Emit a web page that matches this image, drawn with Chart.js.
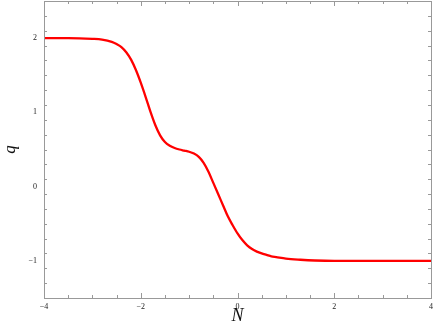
<!DOCTYPE html>
<html>
<head>
<meta charset="utf-8">
<script src="https://cdn.jsdelivr.net/npm/chart.js@4/dist/chart.umd.min.js"></script>
<style>
  html, body { margin: 0; padding: 0; background: #fff; }
  #wrap { width: 436px; height: 327px; }
</style>
</head>
<body>
<div id="wrap"><canvas id="canvas"></canvas></div>
<script>
// q(N)
var nVals = [-4, -3.5, -3, -2.8, -2.6, -2.5, -2.4, -2.3, -2.2, -2.1, -2.0, -1.9, -1.8, -1.7, -1.6, -1.5, -1.4, -1.3, -1.2, -1.1, -1.0,
             -0.9, -0.8, -0.7, -0.6, -0.5, -0.4, -0.3, -0.2, -0.1, 0, 0.1, 0.2, 0.3, 0.4, 0.5, 0.6, 0.7, 0.8, 1.0, 1.3, 1.6, 2, 3, 4];
var qVals = [2.0, 2.0, 1.99, 1.98, 1.95, 1.92, 1.88, 1.81, 1.71, 1.57, 1.40, 1.21, 1.01, 0.83, 0.69, 0.60, 0.55, 0.52, 0.50, 0.485, 0.47,
             0.445, 0.40, 0.32, 0.20, 0.05, -0.10, -0.25, -0.40, -0.52, -0.63, -0.72, -0.79, -0.84, -0.875, -0.90, -0.92, -0.94, -0.95, -0.97, -0.985, -0.995, -1.0, -1.0, -1.0];

var xTicks = [-4, -2, 0, 2, 4];
var yTicks = [-1, 0, 1, 2];

var points = nVals.map(function(n, i){
    return {x: n, y: qVals[i]};
});

function fmt(v){
    return v < 0 ? '\u2212' + Math.abs(v) : String(v);
}

// mathematica style frame with inward ticks
var frameTicks = {
    id: 'frameTicks',
    afterDraw: function(chart){
        var c = chart.ctx;
        var a = chart.chartArea;
        var xs = chart.scales.x, ys = chart.scales.y;
        c.save();
        c.strokeStyle = '#999';
        c.lineWidth = 1;
        c.strokeRect(a.left + 0.5, a.top + 0.5, a.right - a.left, a.bottom - a.top);
        c.beginPath();
        for (var i = 0; i <= 16; i++) {
            var v = -4 + i * 0.5;
            var px = Math.round(xs.getPixelForValue(v)) + 0.5;
            var len = (v % 2 === 0) ? 5 : 3;
            c.moveTo(px, a.bottom); c.lineTo(px, a.bottom - len);
            c.moveTo(px, a.top); c.lineTo(px, a.top + len);
        }
        for (var j = 0; j <= 20; j++) {
            var w = -1.5 + j * 0.2;
            var py = Math.round(ys.getPixelForValue(w)) + 0.5;
            var isMajor = Math.abs(w - Math.round(w)) < 1e-6;
            var l2 = isMajor ? 5 : 3;
            c.moveTo(a.left, py); c.lineTo(a.left + l2, py);
            c.moveTo(a.right, py); c.lineTo(a.right - l2, py);
        }
        c.stroke();
        c.restore();
    }
};

function noPad(scale){
    scale.paddingTop = 0;
    scale.paddingBottom = 0;
    scale.paddingLeft = 0;
    scale.paddingRight = 0;
}

const ctx = document.getElementById('canvas');
const myChart = new Chart(ctx, {
    type: 'line',
    data: {
        datasets: [{
            data: points,
            borderColor: '#ff0000',
            backgroundColor: 'transparent',
            borderWidth: 2.3,
            pointRadius: 0,
            cubicInterpolationMode: 'monotone'
        }]
    },
    options: {
        responsive: true,
        maintainAspectRatio: false,
        animation: false,
        layout: { autoPadding: false, padding: { left: 0, right: 5, top: 1, bottom: 0 } },
        plugins: {
            legend: { display: false },
            tooltip: { enabled: false }
        },
        scales: {
            x: {
                type: 'linear',
                min: -4,
                max: 4,
                afterBuildTicks: function(scale){
                    scale.ticks = xTicks.map(function(v){ return {value: v}; });
                },
                afterFit: function(scale){ scale.height = 29; noPad(scale); },
                grid: { display: false, drawTicks: false },
                border: { display: false },
                ticks: {
                    padding: 4,
                    maxRotation: 0,
                    color: '#222',
                    font: { family: 'Liberation Serif', size: 8 },
                    callback: function(v){ return fmt(v); }
                },
                title: {
                    display: true,
                    text: 'N',
                    color: '#111',
                    padding: { top: 0, bottom: 0 },
                    font: { family: 'Liberation Serif', size: 18, style: 'italic' }
                }
            },
            y: {
                min: -1.5,
                max: 2.5,
                afterBuildTicks: function(scale){
                    scale.ticks = yTicks.map(function(v){ return {value: v}; });
                },
                afterFit: function(scale){ scale.width = 44; noPad(scale); },
                grid: { display: false, drawTicks: false },
                border: { display: false },
                ticks: {
                    padding: 7,
                    color: '#222',
                    font: { family: 'Liberation Serif', size: 8 },
                    callback: function(v){ return fmt(v); }
                },
                title: {
                    display: true,
                    text: 'q',
                    color: '#111',
                    padding: { top: 0, bottom: 0 },
                    font: { family: 'Liberation Serif', size: 17, style: 'italic' }
                }
            }
        }
    },
    plugins: [frameTicks]
});
</script>
</body>
</html>
